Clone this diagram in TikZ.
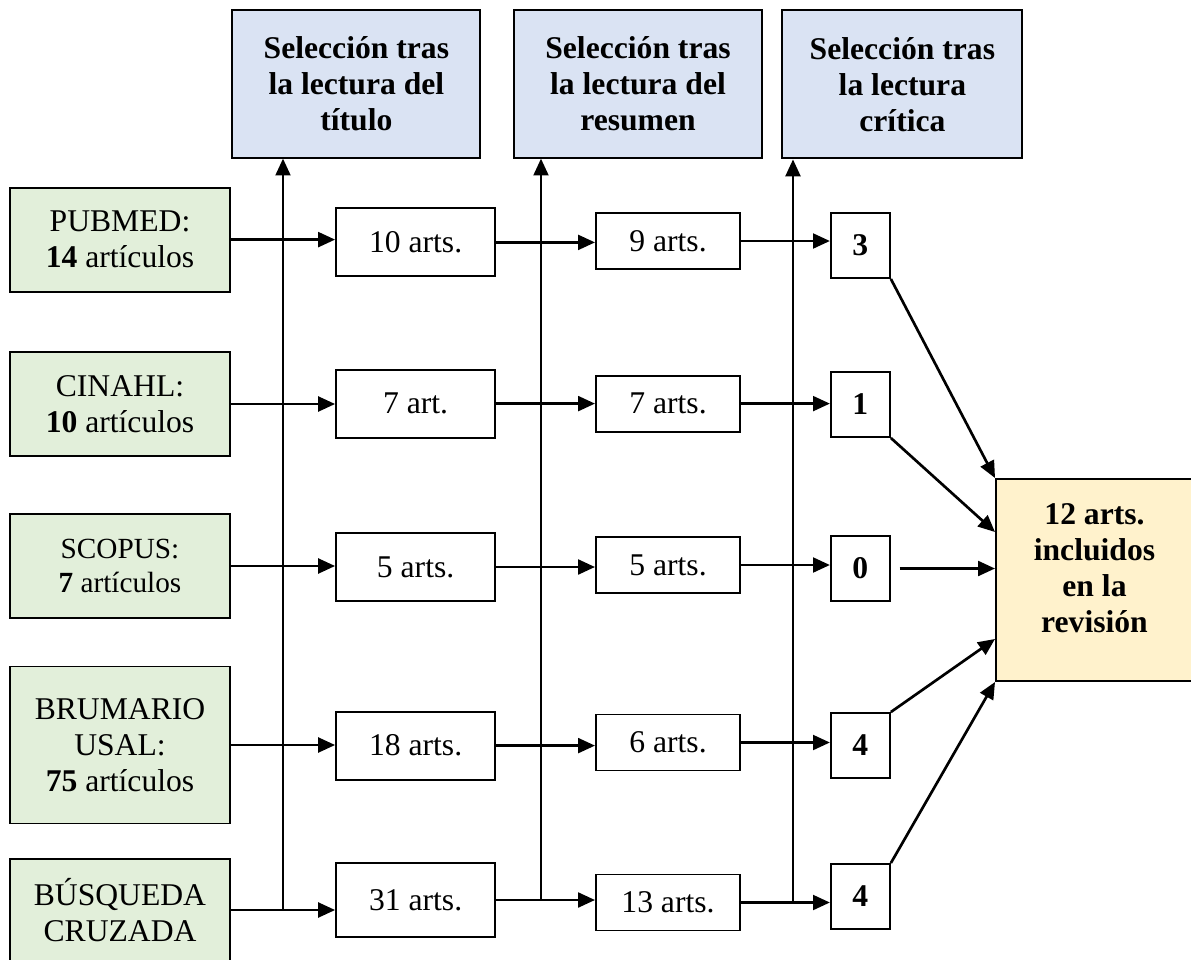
\documentclass[tikz,border=0pt]{standalone}
\usepackage{fontspec}
\setmainfont{Liberation Serif}
\usetikzlibrary{arrows.meta}
\definecolor{MyBlue}{HTML}{DAE3F3}
\definecolor{MyGreen}{HTML}{E2EFDA}
\definecolor{MyYellow}{HTML}{FFF2CC}
\tikzset{
  box/.style={draw, line width=1.4pt, align=center, inner sep=0pt,
    font=\fontsize{22.5}{25.5}\selectfont},
  headbox/.style={box, fill=MyBlue, minimum width=6.2cm, minimum height=3.7cm,
    font=\fontsize{22.5}{25.5}\selectfont\bfseries},
  srcbox/.style={box, fill=MyGreen, minimum width=5.5cm, minimum height=2.6cm},
  artbox/.style={box, minimum width=3.975cm, minimum height=1.7cm},
  selbox/.style={box, minimum width=3.6cm, minimum height=1.4cm},
  numbox/.style={box, minimum width=1.475cm, minimum height=1.625cm,
    font=\fontsize{22.5}{25.5}\selectfont\bfseries},
  endbox/.style={box, fill=MyYellow, minimum width=4.925cm, minimum height=5.05cm},
  arr/.style={line width=1.9pt, -{Triangle[length=12pt,width=10.5pt]}}
}

\begin{document}
\begin{tikzpicture}
\useasboundingbox (0,0) rectangle (29.775,-23.975);

% cabeceras
\node[headbox] (h1) at (8.91,-2.09) {Selección tras\\la lectura del\\título};
\node[headbox] (h2) at (15.95,-2.09) {Selección tras\\la lectura del\\resumen};
\node[headbox, minimum width=6cm] (h3) at (22.56,-2.11) {Selección tras\\la lectura\\crítica};

% bases de datos
\node[srcbox] (pub) at (3,-5.99) {PUBMED:\\\textbf{14} artículos};
\node[srcbox] (cin) at (3,-10.1) {CINAHL:\\\textbf{10} artículos};
\node[srcbox, font=\fontsize{20.8}{24}\selectfont] (sco) at (3,-14.15) {SCOPUS:\\\textbf{7} artículos};
\node[srcbox, minimum height=3.925cm] (bru) at (3,-18.625) {BRUMARIO\\USAL:\\\textbf{75} artículos};
\node[srcbox, minimum height=2.55cm] (bus) at (3,-22.75) {BÚSQUEDA\\CRUZADA};

% tras el titulo
\node[artbox] (t1) at (10.39,-6.06) {10 arts.};
\node[artbox] (t2) at (10.39,-10.09) {7 art.};
\node[artbox] (t3) at (10.39,-14.175) {5 arts.};
\node[artbox] (t4) at (10.39,-18.64) {18 arts.};
\node[artbox, minimum height=1.85cm] (t5) at (10.39,-22.5) {31 arts.};

% tras el resumen
\node[selbox] (r1) at (16.7,-6.025) {9 arts.};
\node[selbox] (r2) at (16.7,-10.09) {7 arts.};
\node[selbox] (r3) at (16.7,-14.125) {5 arts.};
\node[selbox] (r4) at (16.7,-18.5625) {6 arts.};
\node[selbox] (r5) at (16.7,-22.5625) {13 arts.};

% lectura critica
\node[numbox] (c1) at (21.51,-6.1375) {3};
\node[numbox] (c2) at (21.51,-10.1125) {1};
\node[numbox] (c3) at (21.51,-14.2125) {0};
\node[numbox] (c4) at (21.51,-18.6375) {4};
\node[numbox] (c5) at (21.51,-22.4125) {4};

% resultado
\node[endbox] (fin) at (27.3625,-14.5) {};
\node[font=\fontsize{22.5}{25.5}\selectfont\bfseries, align=center] (finlbl)
  at ([yshift=0.3cm]fin.center) {12 arts.\\incluidos\\en la\\revisión};

% filas
\foreach \s/\t/\r/\c in {pub/t1/r1/c1, cin/t2/r2/c2, sco/t3/r3/c3, bru/t4/r4/c4, bus/t5/r5/c5}{
  \draw[arr] (\s.east) -- (\s.east -| \t.west);
  \draw[arr] (\t.east) -- (\t.east -| \r.west);
  \draw[arr] (\r.east) -- (\r.east -| \c.west);
}

% lineas verticales
\coordinate (v1) at (7.075,-22.75);
\coordinate (v2) at (13.525,-22.5);
\coordinate (v3) at (19.825,-22.5625);
\draw[arr] (v1) -- (v1 |- h1.south);
\draw[arr] (v2) -- (v2 |- h2.south);
\draw[arr] (v3) -- (v3 |- h3.south);

% hacia el resultado
\draw[arr] (c1.south east) -- (fin.north west);
\draw[arr] (c2.south east) -- ([yshift=-1.35cm]fin.north west);
\draw[arr] ([xshift=0.22cm]c3.east) -- (c3.east -| fin.west);
\draw[arr] (c4.north east) -- ([yshift=1.075cm]fin.south west);
\draw[arr] (c5.north east) -- (fin.south west);
\end{tikzpicture}
\end{document}
